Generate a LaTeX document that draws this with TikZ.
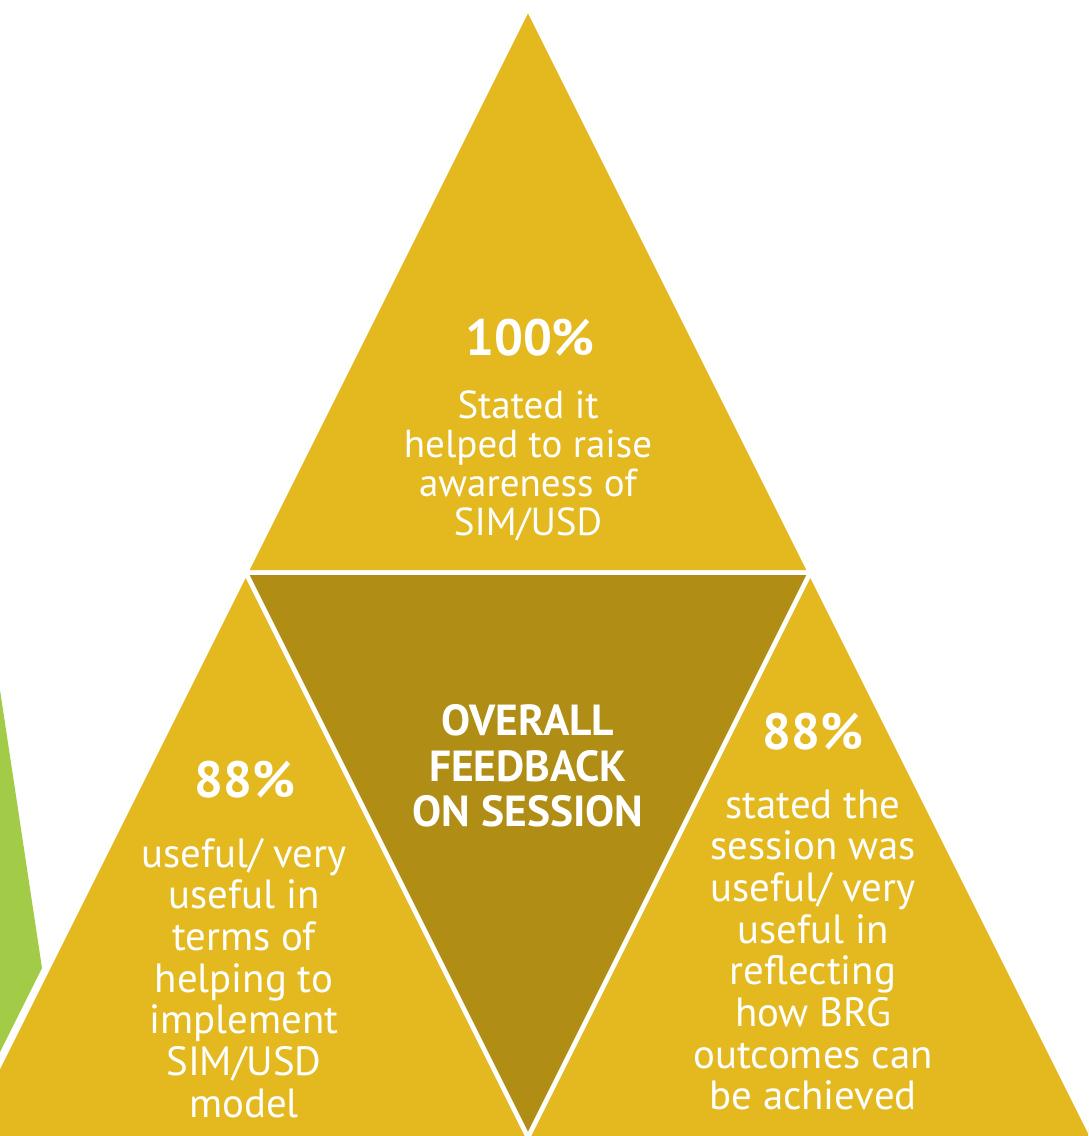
\documentclass[tikz,border=0pt]{standalone}
\usepackage{fontspec}
\setmainfont{PT Sans}
\definecolor{gold}{HTML}{E4B920}
\definecolor{darkgold}{HTML}{B08D14}
\definecolor{leafgreen}{HTML}{A2CB47}
\tikzset{
  tri/.style={fill=gold, draw=white, line width=4.5pt, line join=miter},
  midtri/.style={fill=darkgold, draw=white, line width=4.5pt, line join=miter},
  pct/.style={text=white, font=\bfseries\fontsize{51}{56}\selectfont, inner sep=0pt},
  body/.style={text=white, align=center, font=\fontsize{40.8}{41.7}\selectfont, inner sep=0pt},
  title/.style={text=white, align=center, font=\bfseries\fontsize{43.5}{45.5}\selectfont, inner sep=0pt}
}
\begin{document}
\begin{tikzpicture}[x=1pt,y=-1pt]
\useasboundingbox (0,0) rectangle (1088,1136);
\clip (0,0) rectangle (1088,1136);
% green shape from previous element
\fill[leafgreen] (-10,690) -- (0,690) -- (42,968) -- (0,1052) -- (-10,1072) -- cycle;
% triangles
\draw[tri] (528,8) -- (810.25,572.5) -- (245.75,572.5) -- cycle;
\draw[tri] (245.75,572.5) -- (527.5,1136) -- (527.5,1160) -- (-36,1160) -- (-36,1136) -- cycle;
\draw[tri] (810.25,572.5) -- (1092,1136) -- (1092,1160) -- (528.5,1160) -- (528.5,1136) -- cycle;
\draw[midtri] (245.75,572.5) -- (810.25,572.5) -- (528,1137) -- cycle;
% texts
\node[pct] (toppct) at (530,338) {100\%};
\node[body, font=\fontsize{39}{38.8}\selectfont] (toptxt) at (528,466) {Stated it\\helped to raise\\awareness of\\SIM/USD};
\node[title] (mid) at (528,766) {OVERALL\\FEEDBACK\\ON SESSION};
\node[pct] (leftpct) at (245,780) {88\%};
\node[body] (lefttxt) at (244,978) {useful/ very\\useful in\\terms of\\helping to\\implement\\SIM/USD\\model};
\node[pct] (rightpct) at (813,732) {88\%};
\node[body] (righttxt) at (813,950) {stated the\\session was\\useful/ very\\useful in\\reflecting\\how BRG\\outcomes can\\be achieved};
\end{tikzpicture}
\end{document}
